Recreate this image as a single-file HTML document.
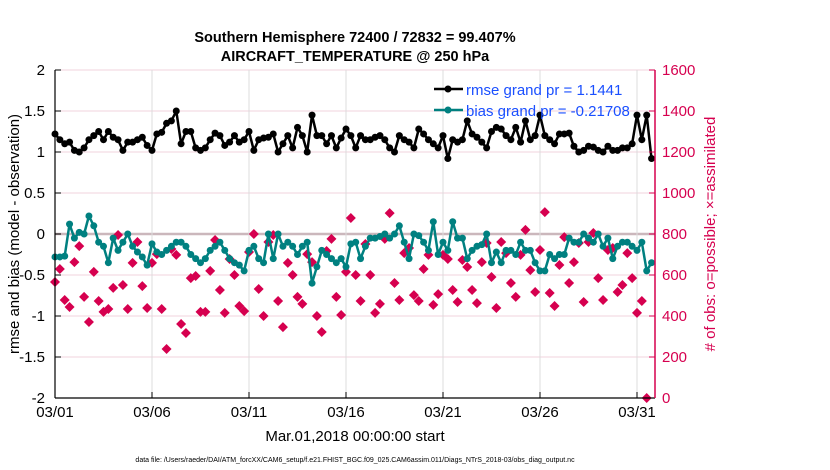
<!DOCTYPE html>
<html><head><meta charset="utf-8">
<style>
body{margin:0;background:#fff;}
svg{display:block;font-family:"Liberation Sans",sans-serif;}
</style></head>
<body>
<svg id="chart" width="830" height="470" viewBox="0 0 830 470">
<text x="355" y="42" text-anchor="middle" font-size="14.5" font-weight="bold">Southern Hemisphere 72400 / 72832 = 99.407%</text>
<text x="355" y="61" text-anchor="middle" font-size="14.5" font-weight="bold">AIRCRAFT_TEMPERATURE @ 250 hPa</text>
<g id="grid"></g>
<g id="obs"></g>
<g id="series"></g>
<g id="axes"></g>
<text transform="translate(19,234) rotate(-90)" text-anchor="middle" font-size="15">rmse and bias (model - observation)</text>
<text transform="translate(715,234) rotate(-90)" text-anchor="middle" font-size="15" fill="#d6004f"># of obs: o=possible; ×=assimilated</text>
<text x="355" y="441" text-anchor="middle" font-size="15">Mar.01,2018 00:00:00 start</text>
<text x="355" y="462" text-anchor="middle" font-size="7">data file: /Users/raeder/DAI/ATM_forcXX/CAM6_setup/f.e21.FHIST_BGC.f09_025.CAM6assim.011/Diags_NTrS_2018-03/obs_diag_output.nc</text>
<g>
<line x1="434" y1="89" x2="463" y2="89" stroke="#000" stroke-width="2.5"/>
<circle cx="448" cy="89" r="3.5" fill="#000"/>
<text x="466" y="95" font-size="15" fill="#1a4fff">rmse grand pr = 1.1441</text>
<line x1="434" y1="110" x2="463" y2="110" stroke="#008080" stroke-width="2.5"/>
<circle cx="448" cy="110" r="3.5" fill="#008080"/>
<text x="466" y="116" font-size="15" fill="#1a4fff">bias grand pr = -0.21708</text>
</g>
</svg>
<script>
const xTickLabels=["03/01","03/06","03/11","03/16","03/21","03/26","03/31"];
const xTickDays=[0,5,10,15,20,25,30];
const leftTicks=[2,1.5,1,0.5,0,-0.5,-1,-1.5,-2];
const rightTicks=[1600,1400,1200,1000,800,600,400,200,0];
const rmse=[1.22,1.15,1.1,1.12,1.02,1.0,1.05,1.15,1.2,1.25,1.15,1.25,1.18,1.15,1.02,1.12,1.12,1.15,1.18,1.08,1.02,1.22,1.24,1.35,1.38,1.5,1.1,1.25,1.25,1.05,1.02,1.05,1.15,1.23,1.2,1.08,1.12,1.2,1.12,1.15,1.25,1.02,
1.15,1.17,1.18,1.22,1.0,1.1,1.2,1.05,1.3,1.2,1.0,1.45,1.2,1.2,1.1,1.2,1.05,1.17,1.28,1.2,1.05,1.2,1.15,1.15,1.18,1.2,1.15,1.05,1.0,1.2,1.15,1.12,1.05,1.28,1.22,1.15,1.1,1.05,1.2,0.92,1.15,1.12,1.15,
1.38,1.22,1.18,1.12,1.05,1.25,1.3,1.28,1.2,1.15,1.3,1.12,1.38,1.15,1.2,1.45,1.2,1.15,1.1,1.22,1.22,1.23,1.07,1.0,1.02,1.07,1.06,1.02,1.0,1.07,1.02,1.02,1.05,1.05,1.1,1.45,1.15,1.45,0.92];
const bias=[-0.28,-0.28,-0.27,0.12,-0.05,0.02,0.0,0.22,0.1,-0.1,-0.15,-0.35,-0.05,-0.2,-0.1,0.0,-0.15,-0.22,-0.28,-0.38,-0.12,-0.22,-0.25,-0.2,-0.15,-0.1,-0.1,-0.15,-0.25,-0.3,-0.35,-0.3,-0.2,-0.15,-0.1,-0.2,-0.3,-0.35,-0.38,-0.45,-0.2,-0.15,
-0.3,-0.35,0.0,-0.3,0.0,-0.15,-0.1,-0.15,-0.25,-0.15,-0.1,-0.6,-0.4,-0.2,-0.25,-0.3,-0.35,-0.3,-0.4,-0.12,-0.1,-0.3,-0.15,-0.05,-0.05,-0.03,0.0,-0.05,0.0,0.1,-0.1,-0.3,0.0,-0.02,-0.1,-0.2,0.15,-0.25,-0.1,-0.2,0.15,-0.05,-0.05,
-0.3,-0.2,-0.15,-0.13,0.0,-0.35,-0.22,-0.35,-0.2,-0.2,-0.25,-0.1,-0.2,-0.2,-0.35,-0.45,-0.45,-0.25,-0.3,-0.25,-0.25,-0.05,-0.1,-0.1,0.0,-0.05,-0.1,0.0,-0.15,-0.05,-0.3,-0.15,-0.1,-0.1,-0.15,-0.2,-0.1,-0.45,-0.35];
const nobs=[566,629,478,444,663,741,493,371,615,473,420,434,537,795,551,434,659,761,546,439,659,702,434,239,727,698,361,317,585,595,420,420,620,771,527,415,678,600,449,424,712,800,
532,400,761,795,473,346,659,600,493,459,702,663,400,322,717,776,493,405,615,878,600,473,751,600,415,459,776,902,561,478,707,732,502,473,629,698,454,507,698,678,527,468,
673,639,527,463,663,756,590,439,761,707,561,493,698,820,624,517,722,907,512,449,649,785,561,663,756,468,761,805,585,478,722,732,517,551,707,585,415,473,0];

const NS="http://www.w3.org/2000/svg";
const X0=55,X1=655,Y0=70,Y1=398;
const xs=d=>X0+d*19.4;
const yL=v=>234-v*82;
const yR=n=>Y1-n*(Y1-Y0)/1600;
function mk(tag,attrs,parent){const e=document.createElementNS(NS,tag);for(const k in attrs)e.setAttribute(k,attrs[k]);parent.appendChild(e);return e;}
const grid=document.getElementById('grid'),axes=document.getElementById('axes'),ser=document.getElementById('series'),obs=document.getElementById('obs');
leftTicks.forEach(v=>{const y=yL(v);
 const g=mk('line',{x1:X0,x2:X1,y1:y,y2:y,stroke:v===0?'#cbb7bc':'#f2d3dc','stroke-width':v===0?2.5:1},grid);
 
 
 mk('line',{x1:X0,x2:X0+6,y1:y,y2:y,stroke:'#000'},axes);
 const t=mk('text',{x:X0-10,y:y+5,'text-anchor':'end','font-size':15},axes);t.textContent=String(v);
 
 
});
rightTicks.forEach(n=>{const y=yR(n);
 mk('line',{x1:X1-6,x2:X1,y1:y,y2:y,stroke:'#d6004f'},axes);
 const t=mk('text',{x:X1+7,y:y+5,'font-size':15,fill:'#d6004f'},axes);t.textContent=String(n);
 
 
});
xTickDays.forEach((d,i)=>{const x=xs(d);
 if(i>0){const g=mk('line',{x1:x,x2:x,y1:Y0,y2:Y1,stroke:'#dcdcdc'},grid);
 
 }
 mk('line',{x1:x,x2:x,y1:Y1,y2:Y1-6,stroke:'#000'},axes);
 const t=mk('text',{x:x,y:417,'text-anchor':'middle','font-size':15},axes);t.textContent=xTickLabels[i];
 
 
});
const la=mk('line',{x1:X0,x2:X0,y1:Y0,y2:Y1,stroke:'#000','stroke-width':1.2},axes);


const ba=mk('line',{x1:X0,x2:X1,y1:Y1,y2:Y1,stroke:'#000','stroke-width':1.2},axes);


const ra=mk('line',{x1:X1,x2:X1,y1:Y0,y2:Y1,stroke:'#d6004f','stroke-width':1.5},axes);



nobs.forEach((n,i)=>{const x=xs(i*0.25),y=yR(n);
 const p=mk('path',{d:`M${x-5},${y}L${x},${y-5}L${x+5},${y}L${x},${y+5}Z`,fill:'#d6004f'},obs);
 
 
});
function drawLine(vals,color,name){
 const pts=vals.map((v,i)=>xs(i*0.25).toFixed(1)+','+yL(v).toFixed(1)).join(' ');
 const pl=mk('polyline',{points:pts,fill:'none',stroke:color,'stroke-width':2.5,'stroke-linejoin':'round'},ser);
 
 
 vals.forEach((v,i)=>{const c=mk('circle',{cx:xs(i*0.25),cy:yL(v),r:3.5,fill:color},ser);
  
  });
}
drawLine(bias,'#008080','bias');
drawLine(rmse,'#000000','rmse');
</script>
</body></html>
